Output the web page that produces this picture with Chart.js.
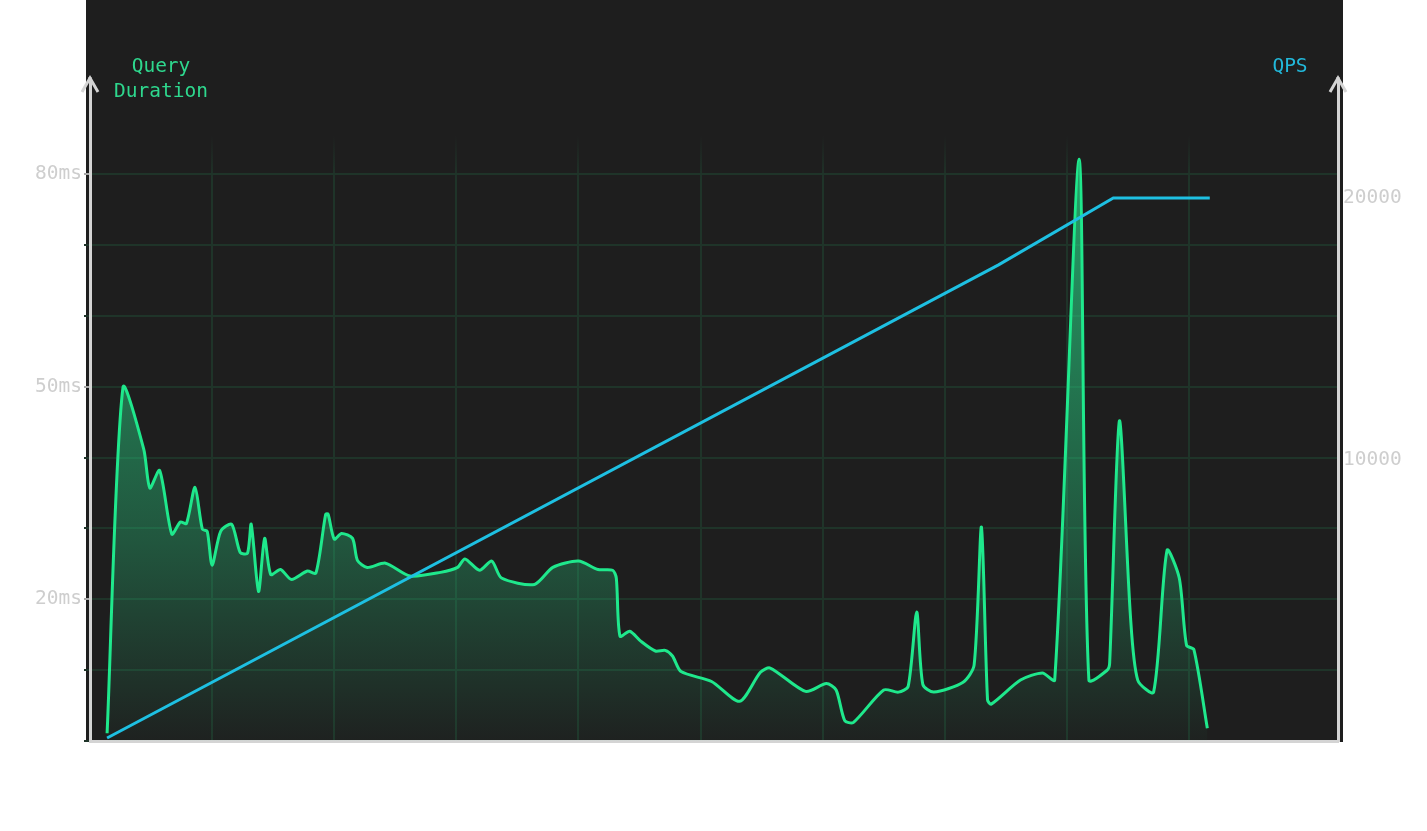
<!DOCTYPE html>
<html>
    <head>
        <title>Query Duration vs QPS</title>
        <script src="https://cdn.jsdelivr.net/npm/chart.js@4"></script>
        <style>
            html, body { margin: 0; padding: 0; background: #fff; }
            #wrap { width: 1427px; height: 831px; }
        </style>
    </head>
    <body>
        <div id="wrap"><canvas id="chart"></canvas></div>

        <script>
            // elapsed seconds of each query duration sample
            const seconds = [
                1.4, 2.7, 4.4, 4.9, 5.7, 6.7, 7.4, 7.9, 8.6, 9.2, 9.6, 10.0, 10.7, 11.6, 12.3, 12.9,
                13.2, 13.8, 14.3, 14.8, 15.6, 16.5, 17.8, 18.5, 19.3, 19.5, 20.0, 20.6, 21.5, 21.9,
                22.7, 24.2, 26.2, 28.7, 30.1, 30.7, 31.9, 32.9, 33.7, 36.4, 37.9, 40.0, 41.6, 42.8,
                43.1, 43.4, 44.2, 45.1, 46.3, 47.1, 47.7, 48.4, 50.9, 53.2, 54.9, 55.7, 58.6, 60.3,
                61.1, 61.8, 62.5, 65.0, 66.2, 67.0, 67.7, 68.2, 69.1, 71.5, 72.4, 73.0, 73.5, 73.8,
                76.2, 78.0, 79.0, 81.0, 81.8, 83.3, 83.5, 84.3, 85.2, 85.8, 87.1, 88.2, 89.2, 89.8,
                90.4, 91.5,
            ]
            const queryMs = [
                1.1, 49.9, 41.2, 35.7, 38.2, 29.2, 30.9, 30.7, 35.8, 29.9, 29.6, 24.8, 29.6, 30.6, 26.6, 26.5,
                30.6, 21.1, 28.6, 23.5, 24.2, 22.8, 24.0, 23.7, 32.0, 32.0, 28.5, 29.3, 28.6, 25.5,
                24.5, 25.1, 23.3, 23.8, 24.5, 25.7, 24.1, 25.4, 23.0, 22.1, 24.5, 25.4, 24.2, 24.1,
                23.0, 14.8, 15.5, 14.1, 12.7, 12.8, 12.0, 9.8, 8.4, 5.6, 9.7, 10.3, 7.0, 8.1,
                7.2, 2.9, 2.6, 7.2, 6.9, 7.7, 18.2, 8.0, 6.9, 8.3, 10.7, 30.2, 5.8, 5.2,
                8.6, 9.6, 8.6, 82.1, 8.6, 10.0, 11.0, 45.2, 17.7, 8.6, 6.9, 26.9, 23.0, 13.5,
                12.9, 1.8,
            ]

            const qpsSeconds = [1.4, 74.4, 83.8, 91.7]
            const qpsValues = [-600, 17450, 20000, 20000]

            const msTicks = [0, 10, 20, 30, 40, 50, 60, 70, 80]
            const qpsTicks = [10000, 20000]

            const green = '#1fe88c'
            const cyan = '#1ec0e2'
            const gridColor = '#1f3429'
            const axisColor = '#d4d4d4'
            const labelColor = '#cecece'

            Chart.defaults.font.family = '"DejaVu Sans Mono", monospace'
            Chart.defaults.font.size = 19.5

            const bgPlugin = {
                id: 'bg',
                beforeDraw(chart) {
                    const { ctx, chartArea } = chart
                    ctx.save()
                    ctx.fillStyle = '#1e1e1e'
                    ctx.fillRect(chartArea.left - 4, 0, chartArea.right - chartArea.left + 9, chartArea.bottom + 1)
                    ctx.restore()
                },
                afterDraw(chart) {
                    const { ctx, chartArea } = chart
                    ctx.save()
                    ctx.strokeStyle = axisColor
                    ctx.lineWidth = 3
                    ctx.lineCap = 'butt'
                    for (const x of [chartArea.left, chartArea.right]) {
                        ctx.beginPath()
                        ctx.moveTo(x, chartArea.top + 2)
                        ctx.lineTo(x, chartArea.top - 3)
                        ctx.stroke()
                        ctx.beginPath()
                        ctx.moveTo(x - 8, chartArea.top + 12)
                        ctx.lineTo(x, chartArea.top - 2)
                        ctx.lineTo(x + 8, chartArea.top + 12)
                        ctx.stroke()
                    }
                    ctx.font = '19.5px "DejaVu Sans Mono", monospace'
                    ctx.textAlign = 'center'
                    ctx.textBaseline = 'middle'
                    ctx.fillStyle = '#2ed88e'
                    ctx.fillText('Query', chartArea.left + 71, 67)
                    ctx.fillText('Duration', chartArea.left + 71, 92)
                    ctx.fillStyle = '#22b8da'
                    ctx.fillText('QPS', chartArea.right - 48, 67)
                    ctx.restore()
                },
            }

            const fillGradient = (context) => {
                const { ctx, chartArea } = context.chart
                if (!chartArea) return 'rgba(40,210,130,0.3)'
                const g = ctx.createLinearGradient(0, chartArea.top, 0, chartArea.bottom)
                g.addColorStop(0, 'rgba(40,215,135,0.8)')
                g.addColorStop(0.7, 'rgba(40,215,135,0.3)')
                g.addColorStop(1, 'rgba(40,215,135,0.02)')
                return g
            }

            const xGridColor = (context) => {
                const { ctx, chartArea } = context.chart
                if (!chartArea) return gridColor
                const g = ctx.createLinearGradient(0, chartArea.top, 0, chartArea.top + 100)
                g.addColorStop(0, 'rgba(31,52,41,0)')
                g.addColorStop(0.55, 'rgba(31,52,41,0)')
                g.addColorStop(1, gridColor)
                return g
            }

            new Chart('chart', {
                type: 'line',
                data: {
                    datasets: [
                        {
                            label: 'QPS',
                            data: qpsSeconds.map((x, i) => ({ x, y: qpsValues[i] })),
                            yAxisID: 'qps',
                            borderColor: cyan,
                            borderWidth: 3,
                            pointRadius: 0,
                            tension: 0,
                            fill: false,
                            order: 1,
                        },
                        {
                            label: 'Query Duration',
                            data: seconds.map((x, i) => ({ x, y: queryMs[i] })),
                            yAxisID: 'y',
                            borderColor: green,
                            borderWidth: 3,
                            pointRadius: 0,
                            tension: 0.25,
                            fill: 'origin',
                            backgroundColor: fillGradient,
                            order: 2,
                        },
                    ],
                },
                options: {
                    responsive: true,
                    maintainAspectRatio: false,
                    animation: false,
                    layout: { padding: { top: 80 } },
                    plugins: {
                        legend: { display: false },
                        tooltip: { enabled: false },
                    },
                    scales: {
                        x: {
                            type: 'linear',
                            min: 0,
                            max: 102.2,
                            ticks: { display: false, stepSize: 10 },
                            grid: { color: xGridColor, lineWidth: 2, drawTicks: false },
                            border: { color: axisColor, width: 3 },
                            afterFit: (scale) => { scale.height = 90 },
                        },
                        y: {
                            position: 'left',
                            min: 0,
                            max: 93.3,
                            afterBuildTicks: (scale) => { scale.ticks = msTicks.map((value) => ({ value })) },
                            ticks: {
                                color: labelColor,
                                padding: 2,
                                callback: (v) => (v % 30 === 20 ? v + 'ms' : ''),
                            },
                            grid: {
                                color: gridColor,
                                lineWidth: 2,
                                tickLength: 6,
                                tickColor: (c) => (c.tick && c.tick.value % 30 === 20 ? '#a8a8a8' : gridColor),
                            },
                            border: { color: axisColor, width: 3 },
                            afterFit: (scale) => { scale.width = 90 },
                        },
                        qps: {
                            position: 'right',
                            min: -714,
                            max: 24504,
                            afterBuildTicks: (scale) => { scale.ticks = qpsTicks.map((value) => ({ value })) },
                            ticks: { color: labelColor, padding: 5, callback: (v) => String(v) },
                            grid: { drawOnChartArea: false, drawTicks: false },
                            border: { color: axisColor, width: 3 },
                            afterFit: (scale) => { scale.width = 89 },
                        },
                    },
                },
                plugins: [bgPlugin],
            })
        </script>
    </body>
</html>
